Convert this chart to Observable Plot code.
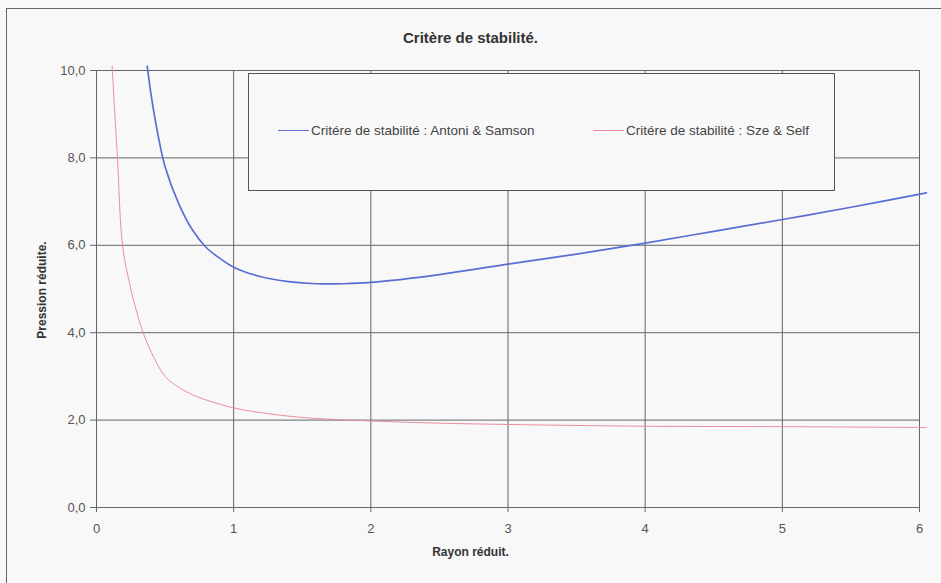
<!DOCTYPE html>
<html>
<head>
<meta charset="utf-8">
<script src="https://cdn.jsdelivr.net/npm/d3@7"></script>
<script src="https://cdn.jsdelivr.net/npm/@observablehq/plot@0.6"></script>
<style>
  html, body { margin: 0; padding: 0; background: #f8f8f8; }
  #wrap { position: relative; width: 941px; height: 583px; overflow: hidden; background: #f8f8f8;
          font-family: "Liberation Sans", Arial, sans-serif; }
  #wrap svg { position: absolute; left: 0; top: 0; }
  .ov { position: absolute; }
  #border { left: 6px; top: 8px; width: 960px; height: 600px; border: 1px solid #666; box-sizing: border-box; }
  #title { left: 0; width: 941px; top: 29px; text-align: center; font-weight: bold; font-size: 15px; color: #333; }
  #xlabel { left: 0; width: 941px; top: 545px; text-align: center; font-weight: bold; font-size: 12px; color: #333; }
  #ylabel { left: 42px; top: 290px; font-weight: bold; font-size: 12px; color: #333; white-space: nowrap;
            transform: translate(-50%, -50%) rotate(-90deg); }
  #legend { left: 248px; top: 73px; width: 587px; height: 118px; border: 1px solid #555; box-sizing: border-box;
            background: #f8f8f8; }
  .item { position: absolute; top: 49px; font-size: 13.5px; color: #444; white-space: nowrap; display: flex; align-items: center; }
  .sw { display: inline-block; width: 31px; height: 0; margin-right: 2px; }
</style>
</head>
<body>
<div id="wrap">
  <div id="border" class="ov"></div>
  <div id="title" class="ov"></div>
  <div id="xlabel" class="ov"></div>
  <div id="ylabel" class="ov"></div>
  <div id="legend" class="ov"></div>
</div>
<script>
// ---- Data ----
const titleText = "Critère de stabilité.";
const xLabel = "Rayon réduit.";
const yLabel = "Pression réduite.";
const seriesNames = ["Critére de stabilité : Antoni & Samson", "Critére de stabilité : Sze & Self"];
const seriesColors = ["#5b6fd2", "#ee8c9a"];
const seriesWidths = [1.7, 1];

const xTicks = [0, 1, 2, 3, 4, 5, 6];
const yTicks = [0, 2, 4, 6, 8, 10];

const antoniX = [0.37, 0.40, 0.45, 0.50, 0.60, 0.70, 0.80, 0.90, 1.00, 1.20, 1.40, 1.60, 1.80, 2.00, 2.50, 3.00, 3.50, 4.00, 4.50, 5.00, 5.50, 6.05];
const antoniY = [10.1, 9.4, 8.5, 7.8, 6.95, 6.35, 5.95, 5.7, 5.5, 5.28, 5.17, 5.12, 5.12, 5.15, 5.33, 5.57, 5.8, 6.05, 6.32, 6.59, 6.87, 7.2];

const szeX = [0.114, 0.13, 0.153, 0.19, 0.25, 0.30, 0.34, 0.40, 0.50, 0.60, 0.70, 0.80, 1.00, 1.20, 1.50, 2.00, 2.50, 3.00, 4.00, 5.00, 6.05];
const szeY = [10.1, 9.2, 8.0, 6.0, 5.0, 4.4, 4.0, 3.55, 3.0, 2.75, 2.58, 2.46, 2.28, 2.17, 2.06, 1.98, 1.93, 1.9, 1.86, 1.85, 1.83];

// ---- Build ----
const antoni = antoniX.map((x, i) => ({x, y: antoniY[i]}));
const sze = szeX.map((x, i) => ({x, y: szeY[i]}));
const fmtY = d => d.toFixed(1).replace(".", ",");

const chart = Plot.plot({
  width: 941,
  height: 583,
  marginLeft: 96,
  marginRight: 22,
  marginTop: 70,
  marginBottom: 76,
  x: {domain: [0, 6], label: null},
  y: {domain: [0, 10], label: null},
  style: {background: "transparent", fontFamily: "'Liberation Sans', Arial, sans-serif", fontSize: "13px", color: "#555", overflow: "visible"},
  marks: [
    Plot.gridX(xTicks, {stroke: "#666", strokeOpacity: 1, strokeWidth: 1}),
    Plot.gridY(yTicks, {stroke: "#666", strokeOpacity: 1, strokeWidth: 1}),
    Plot.frame({stroke: "#666"}),
    Plot.axisX({ticks: xTicks, tickSize: 5, tickPadding: 11, tickFormat: d => String(d), stroke: "#666", fill: "#555", label: null}),
    Plot.axisY({ticks: yTicks, tickSize: 6, tickPadding: 5, tickFormat: fmtY, stroke: "#666", fill: "#555", label: null}),
    Plot.line(antoni, {x: "x", y: "y", stroke: seriesColors[0], strokeWidth: seriesWidths[0], curve: "catmull-rom", clip: false}),
    Plot.line(sze, {x: "x", y: "y", stroke: seriesColors[1], strokeWidth: seriesWidths[1], curve: "catmull-rom", clip: false})
  ]
});
const wrap = document.getElementById("wrap");
wrap.insertBefore(chart, document.getElementById("border"));

document.getElementById("title").textContent = titleText;
document.getElementById("xlabel").textContent = xLabel;
document.getElementById("ylabel").textContent = yLabel;

const legend = document.getElementById("legend");
const legendLeft = [29, 344];
seriesNames.forEach((name, i) => {
  const it = document.createElement("div");
  it.className = "item";
  it.style.left = legendLeft[i] + "px";
  const sw = document.createElement("span");
  sw.className = "sw";
  sw.style.borderTop = seriesWidths[i] + "px solid " + seriesColors[i];
  it.appendChild(sw);
  const t = document.createElement("span");
  t.textContent = name;
  it.appendChild(t);
  legend.appendChild(it);
});
</script>
</body>
</html>
